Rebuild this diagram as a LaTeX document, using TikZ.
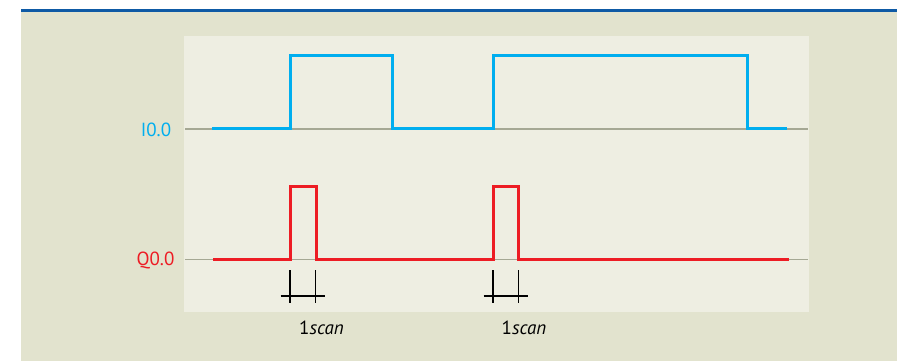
\documentclass[tikz,border=0pt]{standalone}
\usepackage{fontspec}
\setmainfont{PT Sans}
\definecolor{topblue}{RGB}{14,90,165}
\definecolor{outerbg}{RGB}{226,227,206}
\definecolor{innerbg}{RGB}{238,238,226}
\definecolor{axisgray}{RGB}{165,168,148}
\definecolor{sigblue}{RGB}{0,174,239}
\definecolor{sigred}{RGB}{237,28,36}
\tikzset{
  axisline/.style={draw=axisgray, line width=1.8pt},
  bluesig/.style={draw=sigblue, line width=3pt, line join=miter},
  redsig/.style={draw=sigred, line width=3pt, line join=miter},
  tickline/.style={draw=black, line width=1.1pt},
  siglabel/.style={font=\fontsize{19}{21}\selectfont, inner sep=0pt},
  scanlabel/.style={font=\fontsize{19}{21}\selectfont, inner sep=0pt}
}
\begin{document}
\begin{tikzpicture}[x=1pt,y=-1pt]
\useasboundingbox (0,0) rectangle (897,361);
\fill[white] (0,0) rectangle (897,361);
\fill[outerbg] (21,12) rectangle (897,361);
\fill[topblue] (21,9.3) rectangle (897,11.7);
\fill[innerbg] (184,36) rectangle (809,312);
% axes
\draw[axisline] (185,128.7) -- (808,128.7);
\draw[axisline] (185,259.5) -- (808,259.5);
% I0.0 signal
\draw[bluesig] (212,128.7) -- (290,128.7) -- (290,56) -- (392,56) -- (392,128.7)
  -- (493,128.7) -- (493,56) -- (747,56) -- (747,128.7) -- (787,128.7);
% Q0.0 signal
\draw[redsig] (213,259.5) -- (290,259.5) -- (290,186.5) -- (316,186.5) -- (316,259.5)
  -- (493,259.5) -- (493,186.5) -- (518,186.5) -- (518,259.5) -- (789,259.5);
% labels
\node[siglabel, text=sigblue] (lI) at (156,129.5) {I0.0};
\node[siglabel, text=sigred] (lQ) at (155.5,260) {Q0.0};
% scan ticks
\draw[tickline] (290,270) -- (290,303);
\draw[tickline] (315.7,270) -- (315.7,303);
\draw[tickline] (280.7,296) -- (325,296);
\draw[tickline] (493,270) -- (493,303);
\draw[tickline] (518.7,270) -- (518.7,303);
\draw[tickline] (483.7,296) -- (528,296);
\node[scanlabel] (s1) at (321.5,328) {1\textit{scan}};
\node[scanlabel] (s2) at (524,328) {1\textit{scan}};
\end{tikzpicture}
\end{document}
